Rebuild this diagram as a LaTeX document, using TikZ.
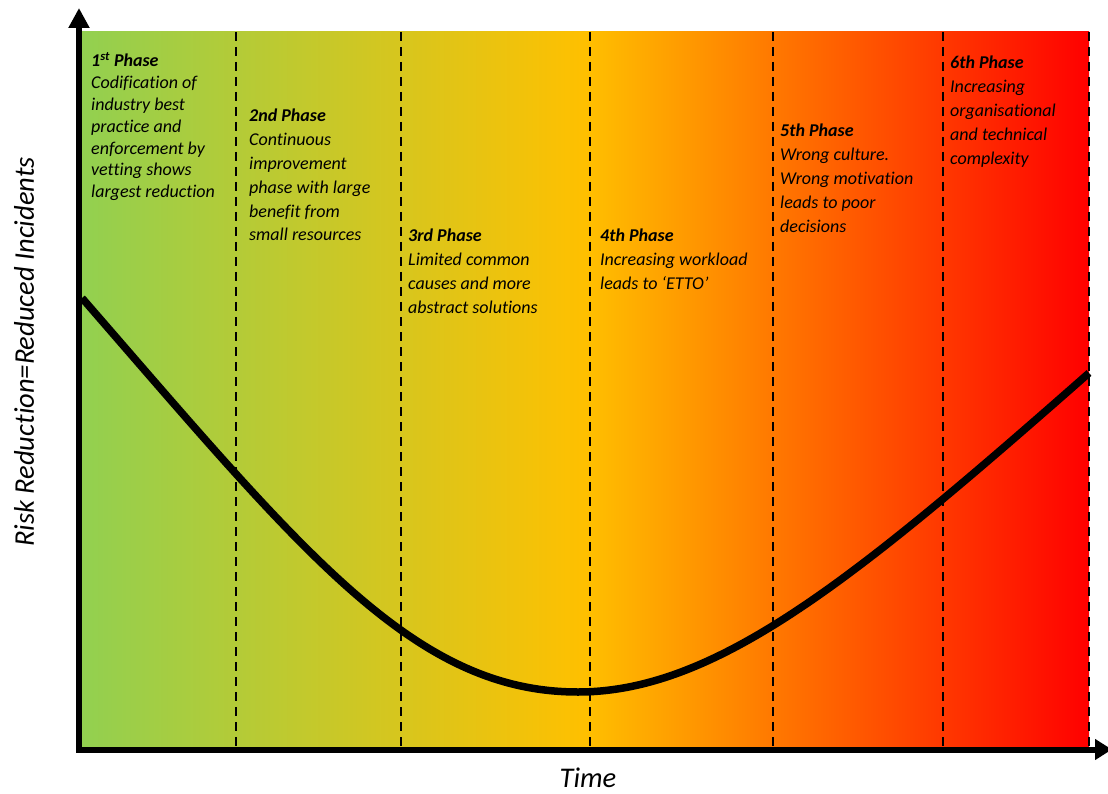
\documentclass[tikz,border=0pt]{standalone}
\usepackage{fontspec}
\setmainfont{Carlito}[Ligatures=NoCommon]
\usetikzlibrary{arrows.meta}
\definecolor{cgreen}{HTML}{92D050}
\definecolor{cyellow}{HTML}{FFC000}
\definecolor{cred}{HTML}{FF0000}
\begin{document}
\begin{tikzpicture}[x=1pt,y=-1pt,
  phasetext/.style={anchor=north west, inner sep=0pt, align=left, font=\fontsize{18}{23.8}\selectfont\itshape},
  divider/.style={dash pattern=on 9pt off 6pt, line width=2.6pt},
  axisline/.style={line width=6pt},
  axislabel/.style={inner sep=0pt, font=\fontsize{28.5}{32}\selectfont\itshape},
  curveline/.style={line width=7.5pt}]
\useasboundingbox (0,0) rectangle (1108,794);
% gradient background
\shade[left color=cgreen, right color=cred, middle color=cyellow] (82,32) rectangle (1089,747);
% phase dividers
\foreach \x in {236,401,590,773,943,1089}
  \draw[divider] (\x,32) -- (\x,747);
% curve
\coordinate (cstart) at (82,298);
\coordinate (cmin) at (578,692);
\coordinate (cend) at (1089,373);
\draw[curveline] (cstart) .. controls (302,551) and (413,692) .. (cmin)
  .. controls (718,692) and (859,575.4) .. (cend);
% axes
\coordinate (ybase) at (79,752.5);
\coordinate (ytip) at (79,8);
\coordinate (xbase) at (76,749.5);
\coordinate (xtip) at (1112,749.5);
\draw[axisline, -{Triangle[width=20pt,length=20pt]}] (ybase) -- (ytip);
\draw[axisline, -{Triangle[width=20pt,length=17pt]}] (xbase) -- (xtip);
% phase texts
\node[phasetext, font=\fontsize{18}{21.9}\selectfont\itshape] (p1) at (91,52)
  {\textbf{1\textsuperscript{st} Phase}\\Codification of\\industry best\\practice and\\enforcement by\\vetting shows\\largest reduction};
\node[phasetext] (p2) at (249,109)
  {\textbf{2nd Phase}\\Continuous\\improvement\\phase with large\\benefit from\\small resources};
\node[phasetext] (p3) at (408,229)
  {\textbf{3rd Phase}\\Limited common\\causes and more\\abstract solutions};
\node[phasetext] (p4) at (600,229)
  {\textbf{4th Phase}\\Increasing workload\\leads to ‘ETTO’};
\node[phasetext] (p5) at (780,124)
  {\textbf{5th Phase}\\Wrong culture.\\Wrong motivation\\leads to poor\\decisions};
\node[phasetext] (p6) at (950,56)
  {\textbf{6th Phase}\\Increasing\\organisational\\and technical\\complexity};
% axis labels
\node[axislabel, rotate=90] (ylab) at (24,352) {Risk Reduction=Reduced Incidents};
\node[axislabel] (xlab) at (588,778) {Time};
\end{tikzpicture}
\end{document}
